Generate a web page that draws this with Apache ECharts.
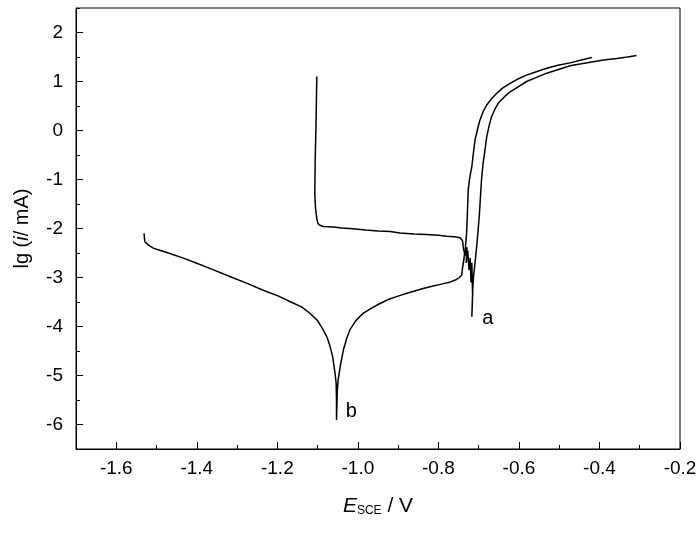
<!DOCTYPE html>
<html>
<head>
<meta charset="utf-8">
<script src="https://cdn.jsdelivr.net/npm/echarts@6/dist/echarts.min.js"></script>
<style>html,body{margin:0;padding:0;background:#fff;}#c{width:700px;height:533px;}</style>
</head>
<body>
<div id="c"></div>
<script>
// Curve a (passivated sample)
const curveA_E = [-1.102, -1.103, -1.104, -1.106, -1.107, -1.105, -1.102, -1.099, -1.093, -1.086, -1.06, -1.04, -1.02, -0.98, -0.95, -0.92, -0.895, -0.86, -0.83, -0.80, -0.779, -0.76, -0.746, -0.740, -0.738, -0.734, -0.729, -0.731, -0.727, -0.724, -0.721, -0.719, -0.717, -0.715, -0.714, -0.716, -0.717, -0.715, -0.713, -0.709, -0.705, -0.701, -0.698, -0.693, -0.689, -0.684, -0.680, -0.674, -0.668, -0.660, -0.651, -0.637, -0.622, -0.60, -0.581, -0.555, -0.531, -0.50, -0.473, -0.445, -0.419, -0.39, -0.357, -0.33, -0.308];
const curveA_lgI = [1.10, 0.60, 0.10, -0.60, -1.30, -1.60, -1.80, -1.90, -1.94, -1.96, -1.97, -1.99, -2.00, -2.03, -2.05, -2.06, -2.09, -2.11, -2.12, -2.14, -2.16, -2.17, -2.19, -2.25, -2.40, -2.55, -2.38, -2.70, -2.45, -2.85, -2.60, -3.10, -2.70, -3.40, -3.00, -3.60, -3.80, -3.30, -3.00, -2.70, -2.37, -2.00, -1.69, -1.01, -0.67, -0.38, -0.13, 0.10, 0.28, 0.43, 0.56, 0.68, 0.79, 0.90, 1.00, 1.09, 1.17, 1.25, 1.32, 1.36, 1.40, 1.44, 1.47, 1.50, 1.53];
// Curve b (bare sample)
const curveB_E = [-1.531, -1.530, -1.529, -1.520, -1.508, -1.490, -1.467, -1.435, -1.400, -1.360, -1.318, -1.275, -1.235, -1.200, -1.169, -1.140, -1.119, -1.100, -1.086, -1.076, -1.069, -1.063, -1.059, -1.056, -1.054, -1.053, -1.053, -1.052, -1.051, -1.049, -1.043, -1.036, -1.028, -1.020, -1.005, -0.987, -0.965, -0.945, -0.925, -0.904, -0.870, -0.840, -0.821, -0.790, -0.770, -0.755, -0.748, -0.742, -0.740, -0.738, -0.741, -0.736, -0.739, -0.733, -0.730, -0.728, -0.726, -0.722, -0.717, -0.713, -0.709, -0.703, -0.697, -0.689, -0.680, -0.668, -0.655, -0.640, -0.622, -0.603, -0.581, -0.557, -0.531, -0.503, -0.473, -0.445, -0.419];
const curveB_lgI = [-2.10, -2.20, -2.27, -2.34, -2.40, -2.45, -2.51, -2.60, -2.71, -2.84, -2.98, -3.12, -3.26, -3.37, -3.49, -3.60, -3.73, -3.88, -4.07, -4.23, -4.41, -4.60, -4.82, -5.00, -5.16, -5.50, -5.91, -5.60, -5.30, -5.09, -4.78, -4.48, -4.25, -4.07, -3.88, -3.73, -3.62, -3.53, -3.45, -3.39, -3.30, -3.23, -3.19, -3.13, -3.09, -3.04, -3.00, -2.95, -2.80, -2.71, -2.85, -2.60, -2.75, -2.40, -2.10, -1.70, -1.21, -0.95, -0.74, -0.45, -0.19, 0.02, 0.21, 0.38, 0.52, 0.65, 0.76, 0.87, 0.96, 1.05, 1.13, 1.20, 1.27, 1.33, 1.38, 1.44, 1.49];

const xLabels = [-1.6, -1.4, -1.2, -1.0, -0.8, -0.6, -0.4, -0.2];
const yLabels = [-6, -5, -4, -3, -2, -1, 0, 1, 2];

const curveLabels = [
  {name: 'a', E: -0.677, lgI: -3.83},
  {name: 'b', E: -1.016, lgI: -5.74}
];

const zip = (xs, ys) => xs.map((x, i) => [x, ys[i]]);
const FONT = "'Liberation Sans', Arial, sans-serif";

const chart = echarts.init(document.getElementById('c'), null, {renderer: 'canvas'});
const lineStyle = {color: '#000', width: 1.5};

chart.setOption({
  animation: false,
  backgroundColor: '#fff',
  grid: {left: 76, right: 20, top: 8, bottom: 84, show: true, borderColor: '#000', borderWidth: 1, backgroundColor: 'transparent'},
  xAxis: [{
    type: 'value', min: -1.7, max: -0.2, interval: 0.1, position: 'bottom',
    axisLine: {show: true, onZero: false, lineStyle: {color: '#000', width: 1}},
    axisTick: {show: true, inside: true, length: 4, lineStyle: {color: '#000'}},
    axisLabel: {show: true, color: '#000', fontFamily: FONT, fontSize: 19, margin: 10, customValues: xLabels, formatter: v => v.toFixed(1)},
    splitLine: {show: false},
    name: '{e|E}{s|SCE}{n| / V}', nameLocation: 'middle', nameGap: 46,
    nameTextStyle: {rich: {
      e: {fontFamily: FONT, fontSize: 21, fontStyle: 'italic', color: '#000'},
      s: {fontFamily: FONT, fontSize: 12, color: '#000', verticalAlign: 'bottom', padding: [10, 0, 0, 0]},
      n: {fontFamily: FONT, fontSize: 21, color: '#000'}
    }}
  }, {
    type: 'value', min: -1.7, max: -0.2, position: 'bottom',
    axisLine: {show: false, onZero: false},
    axisTick: {show: true, inside: true, length: 7, lineStyle: {color: '#000'}, customValues: xLabels},
    axisLabel: {show: false},
    splitLine: {show: false}
  }],
  yAxis: [{
    type: 'value', min: -6.5, max: 2.5, interval: 0.5, position: 'left',
    axisLine: {show: true, onZero: false, lineStyle: {color: '#000', width: 1}},
    axisTick: {show: true, inside: true, length: 4, lineStyle: {color: '#000'}},
    axisLabel: {show: true, color: '#000', fontFamily: FONT, fontSize: 19, margin: 13, customValues: yLabels, formatter: v => String(v)},
    splitLine: {show: false},
    name: '{n|lg (}{i|i}{n|/ mA)}', nameLocation: 'middle', nameGap: 44, nameRotate: 90,
    nameTextStyle: {rich: {
      n: {fontFamily: FONT, fontSize: 20, color: '#000'},
      i: {fontFamily: FONT, fontSize: 20, fontStyle: 'italic', color: '#000'}
    }}
  }, {
    type: 'value', min: -6.5, max: 2.5, position: 'left',
    axisLine: {show: false, onZero: false},
    axisTick: {show: true, inside: true, length: 7, lineStyle: {color: '#000'}, customValues: yLabels},
    axisLabel: {show: false},
    splitLine: {show: false}
  }],
  series: [{
    type: 'line', name: 'a', data: zip(curveA_E, curveA_lgI), showSymbol: false, symbol: 'none',
    lineStyle: lineStyle, itemStyle: {color: '#000'}, z: 3,
    markPoint: {symbol: 'circle', symbolSize: 0, silent: true,
      label: {show: true, color: '#000', fontFamily: FONT, fontSize: 20, formatter: p => p.name, position: 'inside'},
      data: [{name: curveLabels[0].name, coord: [curveLabels[0].E, curveLabels[0].lgI]}]}
  }, {
    type: 'line', name: 'b', data: zip(curveB_E, curveB_lgI), showSymbol: false, symbol: 'none',
    lineStyle: lineStyle, itemStyle: {color: '#000'}, z: 3,
    markPoint: {symbol: 'circle', symbolSize: 0, silent: true,
      label: {show: true, color: '#000', fontFamily: FONT, fontSize: 20, formatter: p => p.name, position: 'inside'},
      data: [{name: curveLabels[1].name, coord: [curveLabels[1].E, curveLabels[1].lgI]}]}
  }]
});
</script>
</body>
</html>
